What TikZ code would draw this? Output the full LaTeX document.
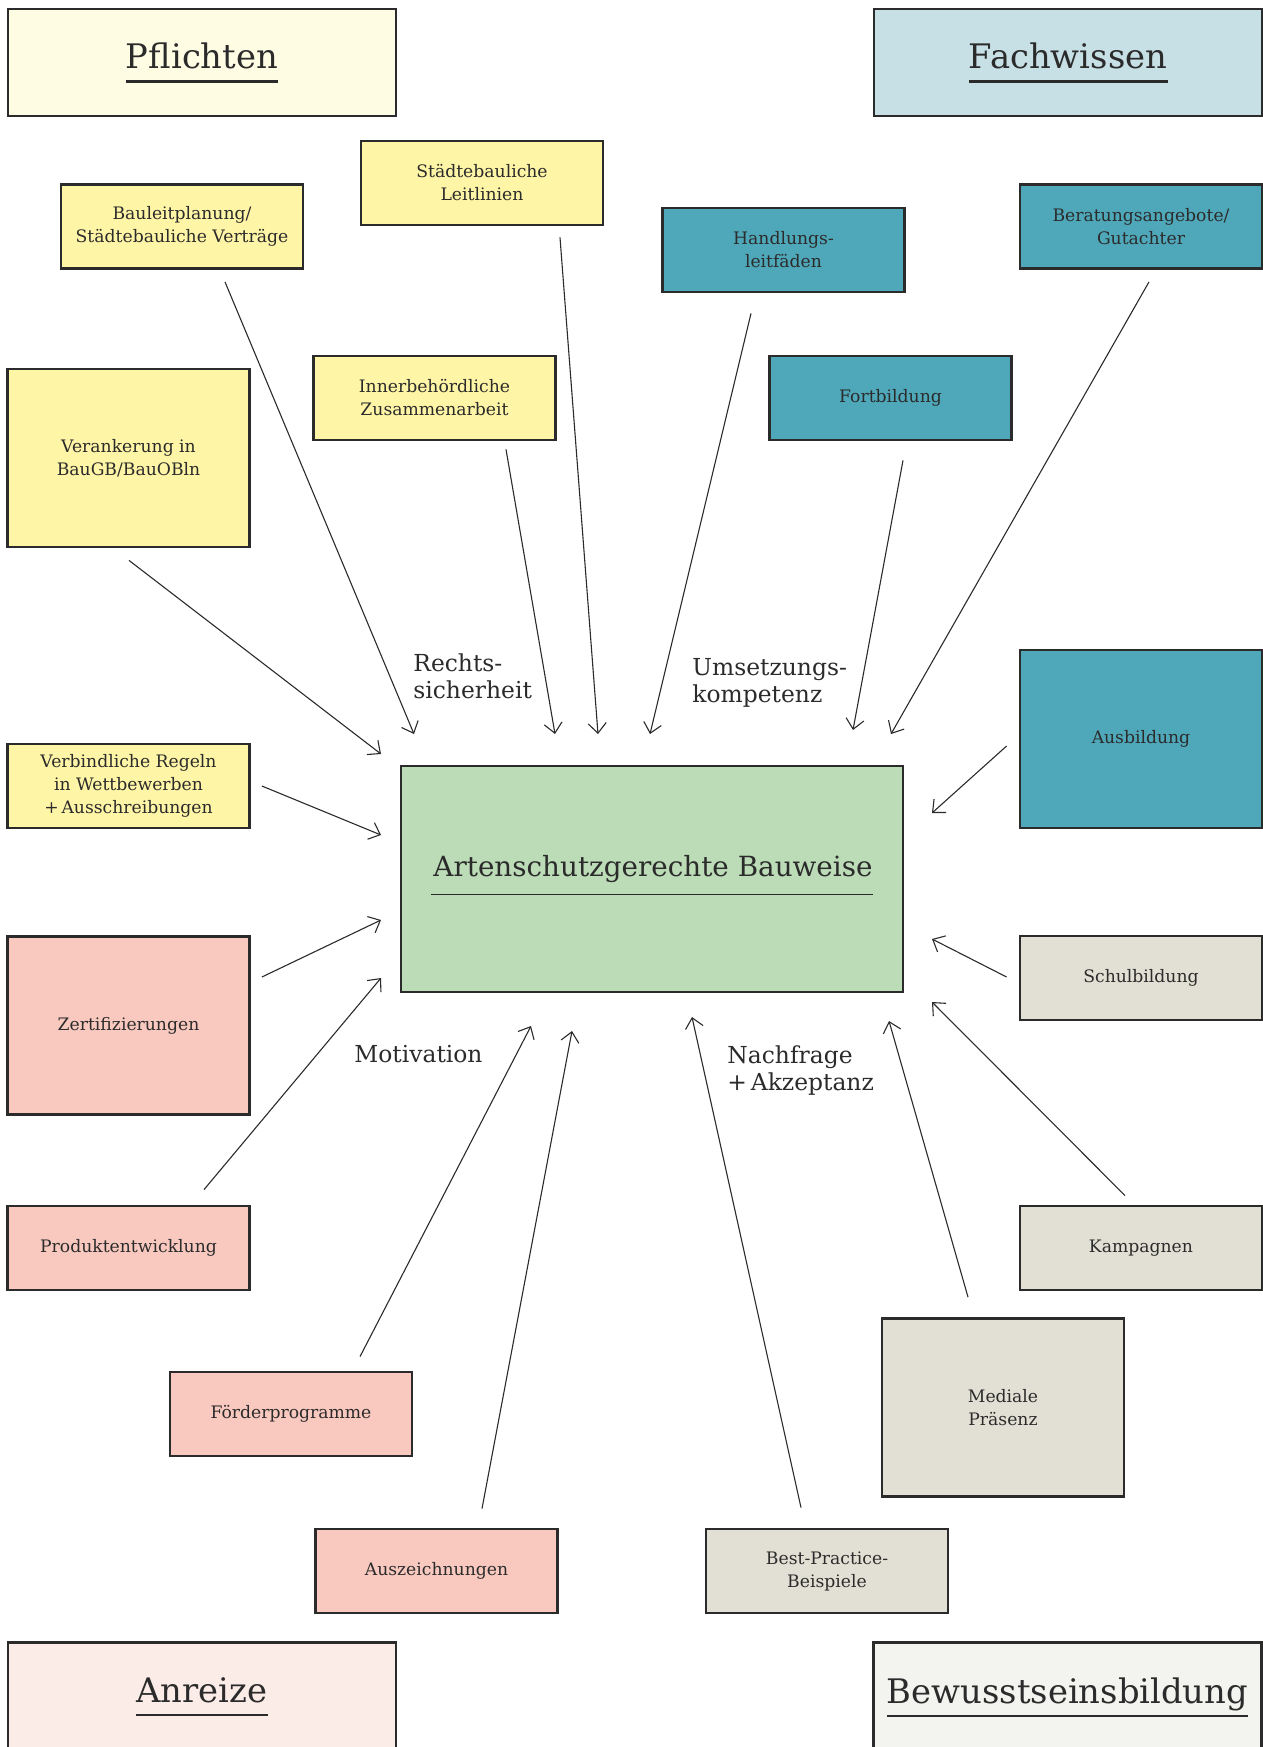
\documentclass[tikz,border=0pt]{standalone}
\usepackage{fontspec}
\setmainfont{DejaVu Serif}
\usetikzlibrary{arrows.meta,calc}

\definecolor{ink}{HTML}{2B2B2B}
\definecolor{pflhead}{HTML}{FFFCE4}
\definecolor{pflbox}{HTML}{FFF5A6}
\definecolor{fachhead}{HTML}{C6E0E6}
\definecolor{fachbox}{HTML}{4FA8BA}
\definecolor{anrhead}{HTML}{FCECE8}
\definecolor{anrbox}{HTML}{F9C9BF}
\definecolor{bewhead}{HTML}{F3F4F0}
\definecolor{bewbox}{HTML}{E2E0D4}
\definecolor{ctrgreen}{HTML}{BBDCB6}

\begin{document}
\begin{tikzpicture}[x=0.5pt, y=-0.5pt,
	box/.style={draw=ink, line width=1.4pt, minimum width=121pt, minimum height=42pt, inner sep=0pt, align=center, text=ink, font=\fontsize{8.6}{11.5}\selectfont},
	bigbox/.style={box, minimum height=89pt},
	head/.style={draw=ink, line width=1.4pt, minimum width=194pt, minimum height=53.5pt},
	headtxt/.style={inner sep=0pt, text=ink, font=\fontsize{16.9}{20}\selectfont},
	headline/.style={ink, line width=1.4pt},
	lbl/.style={inner sep=0pt, align=left, text=ink, font=\fontsize{11.7}{13.5}\selectfont},
	arr/.style={ink, line width=0.55pt, -{Straight Barb[length=5pt,width=9pt]}}
]
	\useasboundingbox (0,0) rectangle (1263,1747);

	% four headings
	\node[head, fill=pflhead] (pfl) at (202,62.5) {};
	\node[head, fill=fachhead] (fach) at (1068,62.5) {};
	\node[head, fill=anrhead, anchor=north, minimum height=70pt] (anr) at (202,1641) {};
	\node[head, fill=bewhead, anchor=north, minimum height=70pt] (bew) at (1067.5,1641) {};

	\node[headtxt, anchor=base] (pflT) at ($(pfl.north)+(0,61)$) {Pflichten};
	\node[headtxt, anchor=base] (fachT) at ($(fach.north)+(0,61)$) {Fachwissen};
	\node[headtxt, anchor=base] (anrT) at ($(anr.north)+(0,61)$) {Anreize};
	\node[headtxt, anchor=base] (bewT) at ($(bew.north)+(0,62)$) {Bewusstseinsbildung};
	\foreach \t in {pflT, fachT, anrT, bewT}
		\draw[headline] ($(\t.base west)+(0,13)$) -- ($(\t.base east)+(0,13)$);

	% centre
	\node[draw=ink, line width=1.4pt, fill=ctrgreen, minimum width=251pt, minimum height=113pt] (ctr) at (652,879) {};
	\node[inner sep=0pt, text=ink, font=\fontsize{13.9}{16}\selectfont, anchor=base] (ctrT) at ($(ctr.north)+(1,112)$) {Artenschutzgerechte Bauweise};
	\draw[ink, line width=0.6pt] ($(ctrT.base west)+(-2,18)$) -- ($(ctrT.base east)+(0,18)$);

	% Pflichten
	\node[box, fill=pflbox] (baul) at (182,226.5) {Bauleitplanung/\\Städtebauliche Verträge};
	\node[box, fill=pflbox] (leit) at (482,183) {Städtebauliche\\Leitlinien};
	\node[bigbox, fill=pflbox] (vera) at (128.5,458) {Verankerung in\\BauGB/BauOBln};
	\node[box, fill=pflbox] (inne) at (434.5,398) {Innerbehördliche\\Zusammenarbeit};
	\node[box, fill=pflbox] (verb) at (128.5,786) {Verbindliche Regeln\\in Wettbewerben\\+\,Ausschreibungen};

	% Fachwissen
	\node[box, fill=fachbox] (hand) at (783.5,250) {Handlungs-\\leitfäden};
	\node[box, fill=fachbox] (bera) at (1141,226.5) {Beratungsangebote/\\Gutachter};
	\node[box, fill=fachbox] (fort) at (890.5,398) {Fortbildung};
	\node[bigbox, fill=fachbox] (ausb) at (1141,739) {Ausbildung};

	% Anreize
	\node[bigbox, fill=anrbox] (zert) at (128.5,1025.5) {Zertifizierungen};
	\node[box, fill=anrbox] (prod) at (128.5,1248) {Produktentwicklung};
	\node[box, fill=anrbox] (foer) at (291,1414) {Förderprogramme};
	\node[box, fill=anrbox] (ausz) at (436.5,1571) {Auszeichnungen};

	% Bewusstseinsbildung
	\node[box, fill=bewbox] (schu) at (1141,978) {Schulbildung};
	\node[box, fill=bewbox] (kamp) at (1141,1248) {Kampagnen};
	\node[bigbox, fill=bewbox] (medi) at (1003,1407.5) {Mediale\\Präsenz};
	\node[box, fill=bewbox] (best) at (827,1571) {Best-Practice-\\Beispiele};

	% labels
	\node[lbl, anchor=north west] (recht) at (413,653) {Rechts-\\sicherheit};
	\node[lbl, anchor=north west] (umset) at (692,658) {Umsetzungs-\\kompetenz};
	\node[lbl, anchor=west] (motiv) at (354,1054) {Motivation};
	\node[lbl, anchor=north west] (nachf) at (727,1045) {Nachfrage\\+\,Akzeptanz};

	% arrow tips
	\coordinate (t1) at (414,734);
	\coordinate (t2) at (598,734);
	\coordinate (t3) at (650,734);
	\coordinate (t4) at (891,734);
	\coordinate (t5) at (381,754);
	\coordinate (t6) at (555,734);
	\coordinate (t7) at (853,730);
	\coordinate (t8) at (932,813);
	\coordinate (t9) at (381,835);
	\coordinate (t10) at (381,920);
	\coordinate (t11) at (381,978);
	\coordinate (t12) at (932,939);
	\coordinate (t13) at (932,1002);
	\coordinate (t14) at (531,1026);
	\coordinate (t15) at (572,1031);
	\coordinate (t16) at (692,1017);
	\coordinate (t17) at (889,1021);

	% arrows
	\draw[arr] ($(baul.south)+(43,12)$) -- (t1);
	\draw[arr] ($(leit.south)+(78,11)$) -- (t2);
	\draw[arr] ($(hand.south)+(-32.5,20)$) -- (t3);
	\draw[arr] ($(bera.south)+(8,12)$) -- (t4);
	\draw[arr] ($(vera.south)+(0.5,12)$) -- (t5);
	\draw[arr] ($(inne.south)+(71.5,8)$) -- (t6);
	\draw[arr] ($(fort.south)+(12.5,19)$) -- (t7);
	\draw[arr] ($(ausb.west)+(-12,7)$) -- (t8);
	\draw[arr] ($(verb.east)+(11,0)$) -- (t9);
	\draw[arr] ($(zert.east)+(11,-48.5)$) -- (t10);
	\draw[arr] ($(prod.north)+(75.5,-15)$) -- (t11);
	\draw[arr] ($(schu.west)+(-12,-1)$) -- (t12);
	\draw[arr] ($(kamp.north)+(-16,-9)$) -- (t13);
	\draw[arr] ($(foer.north)+(69,-14)$) -- (t14);
	\draw[arr] ($(ausz.north)+(45.5,-19)$) -- (t15);
	\draw[arr] ($(best.north)+(-26,-20)$) -- (t16);
	\draw[arr] ($(medi.north)+(-35,-20)$) -- (t17);

\end{tikzpicture}
\end{document}
